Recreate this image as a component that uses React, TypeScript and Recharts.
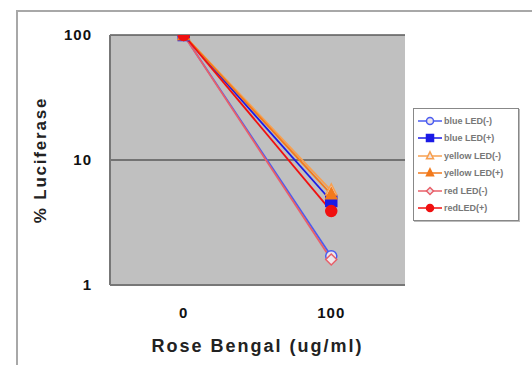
import React from 'react';
import { LineChart, Line, XAxis, YAxis, CartesianGrid } from 'recharts';

const concentrations = ['0', '100'];
const blueMinus = [100, 1.7];
const bluePlus = [100, 4.7];
const yellowMinus = [100, 5.7];
const yellowPlus = [100, 5.3];
const redMinus = [100, 1.6];
const redPlus = [100, 3.9];
const yTicks = [1, 10, 100];

type Shape = 'circle' | 'square' | 'triangle' | 'diamond';

const SERIES: { key: string; name: string; color: string; shape: Shape; filled: boolean; values: number[] }[] = [
    { key: 'blueMinus', name: 'blue LED(-)', color: '#4a5cf0', shape: 'circle', filled: false, values: blueMinus },
    { key: 'bluePlus', name: 'blue LED(+)', color: '#1a1ae6', shape: 'square', filled: true, values: bluePlus },
    { key: 'yellowMinus', name: 'yellow LED(-)', color: '#f7a050', shape: 'triangle', filled: false, values: yellowMinus },
    { key: 'yellowPlus', name: 'yellow LED(+)', color: '#f27a1c', shape: 'triangle', filled: true, values: yellowPlus },
    { key: 'redMinus', name: 'red LED(-)', color: '#e8606a', shape: 'diamond', filled: false, values: redMinus },
    { key: 'redPlus', name: 'redLED(+)', color: '#f01010', shape: 'circle', filled: true, values: redPlus },
];

const data = concentrations.map((c, i) => {
    const row: Record<string, string | number> = { conc: c };
    SERIES.forEach(s => { row[s.key] = s.values[i]; });
    return row;
});

const FONT = '"Liberation Sans", Arial, sans-serif';

const Marker = ({ cx, cy, shape, color, filled, r }: { cx: number; cy: number; shape: Shape; color: string; filled: boolean; r: number }) => {
    const fill = filled ? color : '#eee6ea';
    const sw = 1.5;
    if (shape === 'square') return <rect x={cx - r} y={cy - r} width={r * 2} height={r * 2} fill={fill} stroke={color} strokeWidth={sw} />;
    if (shape === 'triangle') return <polygon points={`${cx},${cy - r * 1.2} ${cx + r},${cy + r * 0.8} ${cx - r},${cy + r * 0.8}`} fill={fill} stroke={color} strokeWidth={sw} />;
    if (shape === 'diamond') return <polygon points={`${cx},${cy - r} ${cx + r},${cy} ${cx},${cy + r} ${cx - r},${cy}`} fill={fill} stroke={color} strokeWidth={sw} />;
    return <circle cx={cx} cy={cy} r={r} fill={fill} stroke={color} strokeWidth={sw} />;
};

const LegendBox = () => (
    <div style={{ position: 'absolute', left: 413, top: 108, border: '1px solid #888', background: '#fff', padding: '3px 4px', width: 96, boxShadow: '1px 1px 0 #bbb' }}>
        {SERIES.map(s => (
            <div key={s.key} style={{ display: 'flex', alignItems: 'center', height: 17.5 }}>
                <svg width={24} height={12}>
                    <line x1={0} y1={6} x2={24} y2={6} stroke={s.color} strokeWidth={1.5} />
                    <Marker cx={12} cy={6} shape={s.shape} color={s.color} filled={s.filled} r={3.5} />
                </svg>
                <span style={{ fontFamily: FONT, fontSize: 9, color: '#777', fontWeight: 700, marginLeft: 2, whiteSpace: 'nowrap' }}>{s.name}</span>
            </div>
        ))}
    </div>
);

export default function App() {
    return (
        <div style={{ position: 'absolute', left: 0, top: 0, width: 532, height: 365, overflow: 'hidden', background: '#fff' }}>
            <div style={{ position: 'absolute', left: 16, top: 10, width: 600, height: 400, border: '2px solid #a8a8a8' }} />
            <LineChart width={532} height={365} data={data} margin={{ top: 35, right: 127, left: 0, bottom: 0 }}>
                <CartesianGrid fill="#c0c0c0" stroke="#5a5a5a" strokeWidth={1.5} vertical={false} />
                <XAxis
                    dataKey="conc"
                    scale="band"
                    height={80}
                    tickLine={false}
                    axisLine={{ stroke: '#777', strokeWidth: 2 }}
                    tickMargin={16}
                    tick={{ fill: '#111', fontFamily: FONT, fontSize: 15, fontWeight: 700, letterSpacing: 1 }}
                    label={{
                        content: ({ viewBox }: any) => (
                            <text x={viewBox.x + viewBox.width / 2} y={viewBox.y + 67} textAnchor="middle"
                                fill="#222" fontFamily={FONT} fontSize={18} fontWeight={700} letterSpacing={2}>Rose Bengal (ug/ml)</text>
                        ),
                    }}
                />
                <XAxis xAxisId="top" orientation="top" dataKey="conc" scale="band" height={0} tick={false} tickLine={false}
                    axisLine={{ stroke: '#999', strokeWidth: 1.5 }} />
                <YAxis
                    scale="log"
                    domain={[1, 100]}
                    ticks={yTicks}
                    allowDataOverflow
                    width={110}
                    tickLine={false}
                    axisLine={{ stroke: '#777', strokeWidth: 2 }}
                    tickMargin={12}
                    tick={{ fill: '#111', fontFamily: FONT, fontSize: 15, fontWeight: 700, letterSpacing: 1 }}
                    label={{
                        content: ({ viewBox }: any) => {
                            const cy = viewBox.y + viewBox.height / 2;
                            return (
                                <text x={40} y={cy} transform={`rotate(-90 40 ${cy})`} textAnchor="middle" dominantBaseline="central"
                                    fill="#222" fontFamily={FONT} fontSize={17} fontWeight={700} letterSpacing={1.8}>% Luciferase</text>
                            );
                        },
                    }}
                />
                <YAxis yAxisId="right" orientation="right" scale="log" domain={[1, 100]} width={0} tick={false}
                    tickLine={false} axisLine={{ stroke: '#999', strokeWidth: 1.5 }} />
                {SERIES.map(s => (
                    <Line
                        key={s.key}
                        dataKey={s.key}
                        name={s.name}
                        stroke={s.color}
                        strokeWidth={1.8}
                        isAnimationActive={false}
                        dot={(p: any) => <Marker key={`${s.key}-${p.index}`} cx={p.cx} cy={p.cy} shape={s.shape} color={s.color} filled={s.filled} r={5.5} />}
                        activeDot={false}
                    />
                ))}
            </LineChart>
            <LegendBox />
        </div>
    );
}
